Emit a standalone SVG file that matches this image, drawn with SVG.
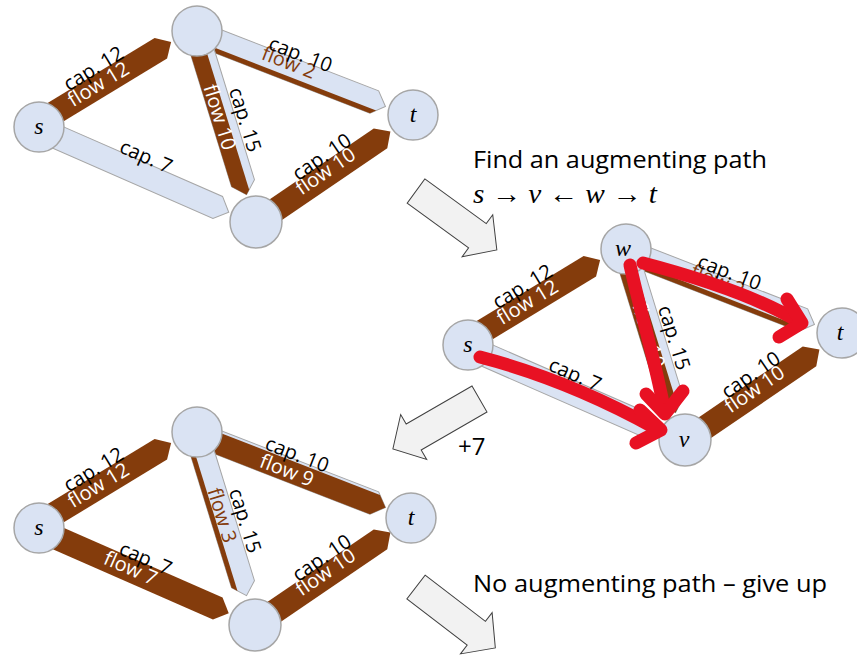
<svg xmlns="http://www.w3.org/2000/svg" width="857" height="655" viewBox="0 0 857 655">
<style>
.cap{fill:#DAE3F3;stroke:#A6A6A6;stroke-width:1}
.flow{fill:#843C0C}
.node{fill:#DAE3F3;stroke:#A6A6A6;stroke-width:1.5}
.lbl{font-family:"Open Sans","Liberation Sans",sans-serif;font-size:20px;text-anchor:middle;fill:#000}
.fw{fill:#fff}
.fb{fill:#843C0C}
.nl{font-family:"Liberation Serif",serif;font-style:italic;font-size:24px;text-anchor:middle;fill:#000}
.blk{fill:#F2F2F2;stroke:#404040;stroke-width:1}
.red{fill:none;stroke:#E81123;stroke-width:13;stroke-linecap:round;stroke-linejoin:round}
.big{font-family:"Open Sans","Liberation Sans",sans-serif;font-size:24px;fill:#000}
.mth{font-family:"Liberation Serif",serif;font-size:27px;fill:#000}
</style>
<defs>
<polygon id="blkarrow" class="blk" points="0,-15 76,-15 76,-26 100,0 76,26 76,15 0,15"/>
</defs>

<!-- Graph 1 -->
<g id="graph1">
<g id="g1-edges">
 <g transform="translate(39,127) rotate(-31.28) translate(0,-4)">
  <polygon class="flow" points="0,-12 145,-12 157,0 145,12 0,12"/>
  <text class="lbl" x="77" y="-11">cap. 12</text>
  <text class="lbl fw" x="73" y="5">flow 12</text>
 </g>
 <g transform="translate(197,31) rotate(21.25) translate(0,2)">
  <polygon class="cap" points="0,-12 191,-12 203,0 191,12 0,12"/>
  <polygon class="flow" points="0,7.2 195.8,7.2 191,12 0,12"/>
  <text class="lbl fb" x="97" y="1">flow 2</text>
  <text class="lbl" x="105" y="-11">cap. 10</text>
 </g>
 <g transform="translate(197,31) rotate(72.83) translate(0,1)">
  <polygon class="cap" points="0,-12 159,-12 171,0 159,12 0,12"/>
  <polygon class="flow" points="0,-4 167,-4 171,0 159,12 0,12"/>
  <text class="lbl fw" x="89" y="9.5">flow 10</text>
  <text class="lbl" x="99" y="-14">cap. 15</text>
 </g>
 <g transform="translate(39,127) rotate(23.64) translate(0,2)">
  <polygon class="cap" points="0,-12 196,-12 208,0 196,12 0,12"/>
  <text class="lbl" x="110" y="-11">cap. 7</text>
 </g>
 <g transform="translate(256,222) rotate(-34.27) translate(0,1)">
  <polygon class="flow" points="0,-12 150,-12 162,0 150,12 0,12"/>
  <text class="lbl fw" x="86" y="3">flow 10</text>
  <text class="lbl" x="91" y="-11">cap. 10</text>
 </g>
</g>
<g id="g1-s"><circle class="node" cx="39" cy="127" r="25"/><text class="nl" x="39" y="134">s</text></g>
<g id="g1-w"><circle class="node" cx="197" cy="31" r="25"/></g>
<g id="g1-t"><circle class="node" cx="413" cy="115" r="25"/><text class="nl" x="413" y="122">t</text></g>
<g id="g1-v"><circle class="node" cx="256" cy="222" r="26"/></g>
</g>

<!-- Graph 2 -->
<g id="graph2" transform="translate(429,218)">
<g id="g2-edges">
 <g transform="translate(39,127) rotate(-31.28) translate(0,-4)">
  <polygon class="flow" points="0,-12 145,-12 157,0 145,12 0,12"/>
  <text class="lbl" x="77" y="-11">cap. 12</text>
  <text class="lbl fw" x="73" y="5">flow 12</text>
 </g>
 <g transform="translate(197,31) rotate(21.25) translate(0,2)">
  <polygon class="cap" points="0,-12 191,-12 203,0 191,12 0,12"/>
  <polygon class="flow" points="0,7.2 195.8,7.2 191,12 0,12"/>
  <text class="lbl fb" x="97" y="1">flow 2</text>
  <text class="lbl" x="105" y="-11">cap. 10</text>
 </g>
 <g transform="translate(197,31) rotate(72.83) translate(0,1)">
  <polygon class="cap" points="0,-12 159,-12 171,0 159,12 0,12"/>
  <polygon class="flow" points="0,-4 167,-4 171,0 159,12 0,12"/>
  <text class="lbl fw" x="89" y="9.5">flow 10</text>
  <text class="lbl" x="99" y="-14">cap. 15</text>
 </g>
 <g transform="translate(39,127) rotate(23.64) translate(0,2)">
  <polygon class="cap" points="0,-12 196,-12 208,0 196,12 0,12"/>
  <text class="lbl" x="110" y="-11">cap. 7</text>
 </g>
 <g transform="translate(256,222) rotate(-34.27) translate(0,1)">
  <polygon class="flow" points="0,-12 150,-12 162,0 150,12 0,12"/>
  <text class="lbl fw" x="86" y="3">flow 10</text>
  <text class="lbl" x="91" y="-11">cap. 10</text>
 </g>
</g>
<g id="g2-s"><circle class="node" cx="39" cy="127" r="25"/><text class="nl" x="39" y="134">s</text></g>
<g id="g2-w"><circle class="node" cx="197" cy="31" r="25"/><text class="nl" x="194" y="38">w</text></g>
<g id="g2-t"><circle class="node" cx="413" cy="115" r="25"/><text class="nl" x="411" y="122">t</text></g>
<g id="g2-v"><circle class="node" cx="256" cy="222" r="26"/><text class="nl" x="255" y="229">v</text></g>
</g>
<g id="g2-path">
 <path class="red" d="M480,357 C530,370 590,392 655,428"/>
 <polyline class="red" points="640,410 661,430 636,443"/>
 <path class="red" d="M630,265 C640,310 655,360 665,413"/>
 <polyline class="red" points="646,394 665,414 683,391"/>
 <path class="red" d="M643,263 C700,278 760,298 801,323"/>
 <polyline class="red" points="787,299 802,323 779,337"/>
</g>

<!-- Graph 3 -->
<g id="graph3" transform="translate(0,401)">
<g id="g3-edges">
 <g transform="translate(39,127) rotate(-31.28) translate(0,-4)">
  <polygon class="flow" points="0,-12 145,-12 157,0 145,12 0,12"/>
  <text class="lbl" x="77" y="-11">cap. 12</text>
  <text class="lbl fw" x="73" y="5">flow 12</text>
 </g>
 <g transform="translate(197,31) rotate(21.25) translate(0,2)">
  <polygon class="cap" points="0,-12 191,-12 203,0 191,12 0,12"/>
  <polygon class="flow" points="0,-9.6 193.4,-9.6 203,0 191,12 0,12"/>
  <text class="lbl fw" x="97.6" y="8">flow 9</text>
  <text class="lbl" x="101.5" y="-10.5">cap. 10</text>
 </g>
 <g transform="translate(197,31) rotate(72.83) translate(0,1)">
  <polygon class="cap" points="0,-12 159,-12 171,0 159,12 0,12"/>
  <polygon class="flow" points="0,7.2 163.8,7.2 159,12 0,12"/>
  <text class="lbl fb" x="87" y="6.5">flow 3</text>
  <text class="lbl" x="99" y="-14">cap. 15</text>
 </g>
 <g transform="translate(39,127) rotate(23.64) translate(0,2)">
  <polygon class="flow" points="0,-12 196,-12 208,0 196,12 0,12"/>
  <text class="lbl fw" x="100" y="5">flow 7</text>
  <text class="lbl" x="110" y="-10">cap. 7</text>
 </g>
 <g transform="translate(256,222) rotate(-34.27) translate(0,1)">
  <polygon class="flow" points="0,-12 150,-12 162,0 150,12 0,12"/>
  <text class="lbl fw" x="86" y="3">flow 10</text>
  <text class="lbl" x="91" y="-11">cap. 10</text>
 </g>
</g>
<g id="g3-s"><circle class="node" cx="39" cy="127" r="25"/><text class="nl" x="39" y="134">s</text></g>
<g id="g3-w"><circle class="node" cx="197" cy="31" r="25"/></g>
<g id="g3-t"><circle class="node" cx="411" cy="117" r="25"/><text class="nl" x="411" y="124">t</text></g>
<g id="g3-v"><circle class="node" cx="255" cy="224" r="26"/></g>
</g>

<!-- Block arrows -->
<g id="step-arrows">
 <use href="#blkarrow" transform="translate(416,191) rotate(36.07)"/>
 <use href="#blkarrow" transform="translate(479.5,399) rotate(150)"/>
 <use href="#blkarrow" transform="translate(416,587) rotate(37.5)"/>
</g>

<!-- Captions -->
<text class="big" x="473" y="168" textLength="294" lengthAdjust="spacingAndGlyphs">Find an augmenting path</text>
<text class="mth" x="473" y="203" textLength="184" lengthAdjust="spacingAndGlyphs"><tspan font-style="italic">s</tspan> → <tspan font-style="italic">v</tspan> ← <tspan font-style="italic">w</tspan> → <tspan font-style="italic">t</tspan></text>
<text class="big" x="458" y="455" font-size="22">+7</text>
<text class="big" x="473" y="592" textLength="354" lengthAdjust="spacingAndGlyphs">No augmenting path – give up</text>
</svg>
